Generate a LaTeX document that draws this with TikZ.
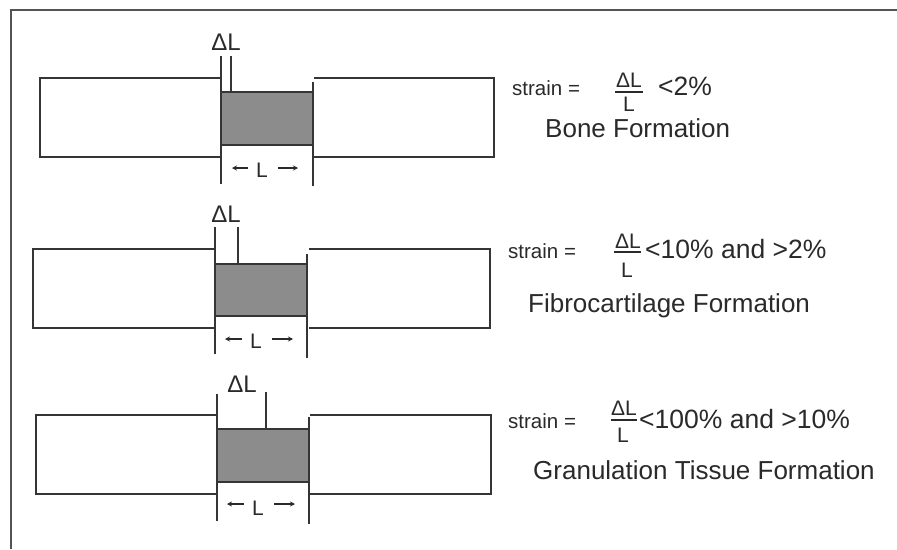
\documentclass[tikz,border=0pt]{standalone}
\usepackage{fontspec}
\setmainfont{Liberation Sans}
\usetikzlibrary{arrows.meta}
\definecolor{lcol}{HTML}{353535}
\definecolor{tcol}{HTML}{2A2A2A}
\definecolor{gfill}{HTML}{8C8C8C}
\tikzset{
  x=1pt,y=-1pt,
  barline/.style={draw=lcol,line width=2pt,line cap=rect},
  frameline/.style={draw=lcol!85,line width=2pt},
  bigtxt/.style={font=\fontsize{26}{30}\selectfont,text=tcol,inner sep=0pt,anchor=base west},
  cmptxt/.style={font=\fontsize{26.5}{30}\selectfont,text=tcol,inner sep=0pt,anchor=base west},
  midtxt/.style={font=\fontsize{20.5}{24}\selectfont,text=tcol,inner sep=0pt,anchor=base west},
  fractxt/.style={font=\fontsize{21}{25}\selectfont,text=tcol,inner sep=0pt,anchor=base},
  dltxt/.style={font=\fontsize{24}{28}\selectfont,text=tcol,inner sep=0pt,anchor=base},
  ltxt/.style={font=\fontsize{21}{25}\selectfont,text=tcol,inner sep=0pt,anchor=base},
  dimarrow/.style={draw=tcol,line width=1.3pt,-{Stealth[length=5pt,width=5pt]}},
}
\begin{document}
\begin{tikzpicture}
\useasboundingbox (0,0) rectangle (897,549);
\fill[white] (0,0) rectangle (897,549);
% frame
\draw[frameline] (11,549) -- (11,10) -- (897,10);

% ---------- panel 1 ----------
\fill[gfill] (221,92) rectangle (313,145);
\draw[barline] (221,92) rectangle (313,145);
\draw[barline] (221,78) -- (40,78) -- (40,157) -- (221,157);
\draw[barline] (315,78) -- (494,78) -- (494,157) -- (315,157);
\draw[barline] (221,57) -- (221,183);
\draw[barline] (313,83) -- (313,185);
\draw[barline] (231,57) -- (231,92);
\node[dltxt] (dl1) at (226,50) {ΔL};
\node[ltxt] (l1) at (262,177) {L};
\draw[dimarrow] ([xshift=-8pt]l1.west |- 0,168) -- (232,168);
\draw[dimarrow] ([xshift=10pt]l1.east |- 0,168) -- (298,168);
\node[midtxt] (s1) at (512,95) {strain =};
\node[fractxt] (n1) at (629,87) {ΔL};
\node[fractxt] (d1) at (629,111) {L};
\draw[draw=tcol,line width=1.3pt] (615,92) -- (643,92);
\node[cmptxt] (c1) at (658,95) {<2\%};
\node[bigtxt] (f1) at (545,137) {Bone Formation};

% ---------- panel 2 ----------
\fill[gfill] (215,264) rectangle (307,316);
\draw[barline] (215,264) rectangle (307,316);
\draw[barline] (215,249) -- (33,249) -- (33,328) -- (215,328);
\draw[barline] (310,249) -- (490,249) -- (490,328) -- (310,328);
\draw[barline] (215,228) -- (215,353);
\draw[barline] (307,255) -- (307,357);
\draw[barline] (238,228) -- (238,264);
\node[dltxt] (dl2) at (226,222) {ΔL};
\node[ltxt] (l2) at (256,348) {L};
\draw[dimarrow] ([xshift=-8pt]l2.west |- 0,339) -- (225,339);
\draw[dimarrow] ([xshift=10pt]l2.east |- 0,339) -- (293,339);
\node[midtxt] (s2) at (508,258) {strain =};
\node[fractxt] (n2) at (628,248) {ΔL};
\node[fractxt] (d2) at (627,277) {L};
\draw[draw=tcol,line width=1.3pt] (614,252) -- (641,252);
\node[cmptxt] (c2) at (645,258) {<10\% and >2\%};
\node[bigtxt] (f2) at (528,312) {Fibrocartilage Formation};

% ---------- panel 3 ----------
\fill[gfill] (217,429) rectangle (309,482);
\draw[barline] (217,429) rectangle (309,482);
\draw[barline] (217,415) -- (36,415) -- (36,494) -- (217,494);
\draw[barline] (311,415) -- (491,415) -- (491,494) -- (311,494);
\draw[barline] (217,395) -- (217,520);
\draw[barline] (309,418) -- (309,523);
\draw[barline] (266,393) -- (266,429);
\node[dltxt] (dl3) at (242,392) {ΔL};
\node[ltxt] (l3) at (258,515) {L};
\draw[dimarrow] ([xshift=-8pt]l3.west |- 0,504) -- (227,504);
\draw[dimarrow] ([xshift=10pt]l3.east |- 0,504) -- (295,504);
\node[midtxt] (s3) at (508,428) {strain =};
\node[fractxt] (n3) at (624,415) {ΔL};
\node[fractxt] (d3) at (623,442) {L};
\draw[draw=tcol,line width=1.3pt] (611,420) -- (637,420);
\node[cmptxt] (c3) at (639,428) {<100\% and >10\%};
\node[bigtxt] (f3) at (533,479) {Granulation Tissue Formation};
\end{tikzpicture}
\end{document}
